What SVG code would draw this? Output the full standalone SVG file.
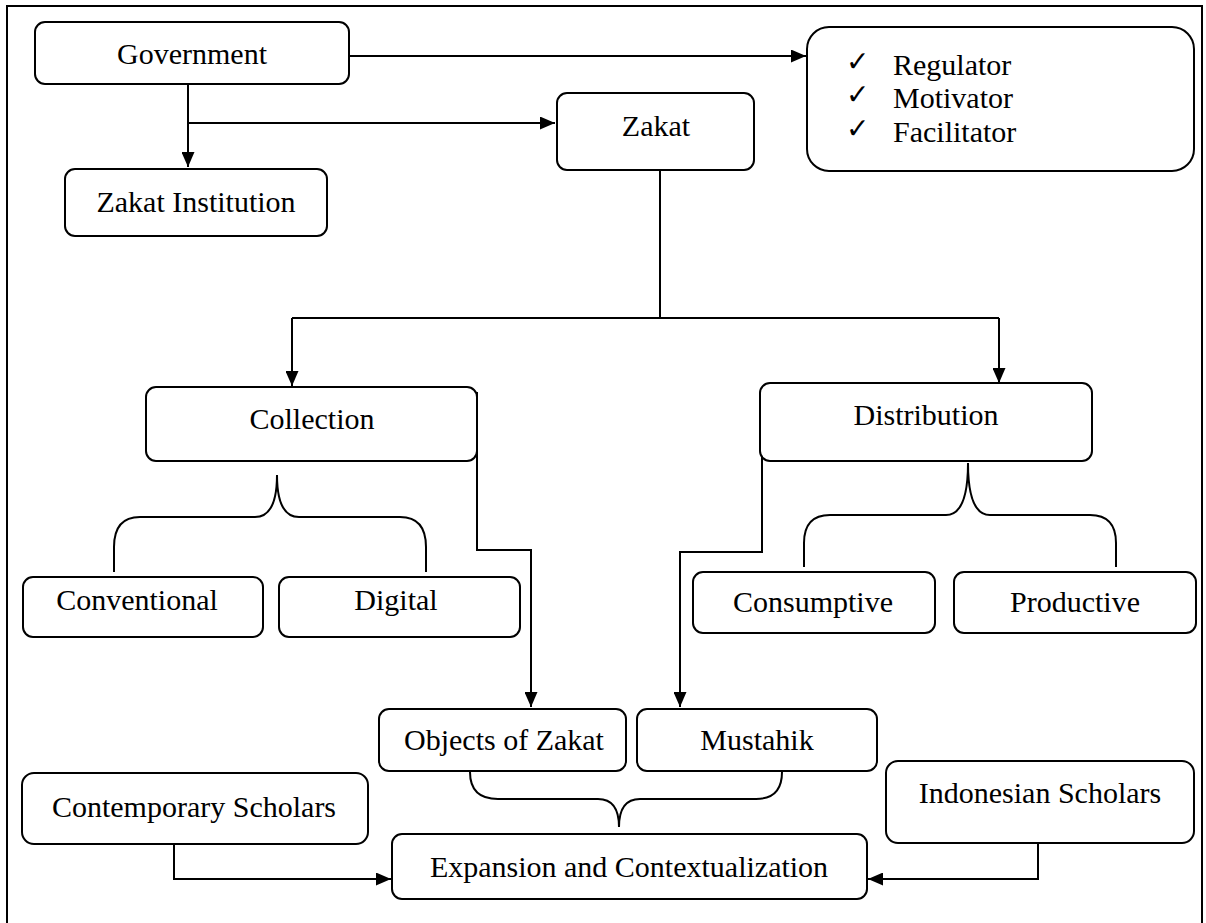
<svg xmlns="http://www.w3.org/2000/svg" width="1206" height="923" viewBox="0 0 1206 923">
<style>
.box{fill:#fff;stroke:#000;stroke-width:2}
.ln{fill:none;stroke:#000;stroke-width:2}
.t{font-family:"Liberation Serif","Times New Roman",serif;font-size:30px;fill:#000;text-anchor:middle}
.tl{font-family:"Liberation Serif","Times New Roman",serif;font-size:30px;fill:#000}
.ck{font-family:"DejaVu Sans",sans-serif;font-size:28px;fill:#000}
</style>
<defs>
<marker id="ah" markerUnits="userSpaceOnUse" markerWidth="15" markerHeight="13" refX="15" refY="6.5" orient="auto">
<path d="M0,0 L15,6.5 L0,13 z" fill="#000"/>
</marker>
</defs>
<rect x="7" y="6" width="1195" height="940" fill="#fff" stroke="#000" stroke-width="2"/>
<g id="connectors">
<path class="ln" d="M349,56 H806" marker-end="url(#ah)"/>
<path class="ln" d="M188,84 V167" marker-end="url(#ah)"/>
<path class="ln" d="M188,123 H555" marker-end="url(#ah)"/>
<path class="ln" d="M660,170 V318"/>
<path class="ln" d="M292,318 H999"/>
<path class="ln" d="M292,318 V386" marker-end="url(#ah)"/>
<path class="ln" d="M999,318 V383" marker-end="url(#ah)"/>
<path class="ln" d="M477,392 V550 H531 V707" marker-end="url(#ah)"/>
<path class="ln" d="M762,398 V552 H680 V707" marker-end="url(#ah)"/>
<path class="ln" d="M114,572 V547 Q114,517 140,517 H255 Q277,517 277,475 Q277,517 299,517 H400 Q426,517 426,547 V572"/>
<path class="ln" d="M804,567 V543 Q804,515 830,515 H946 Q968,515 968,463 Q968,515 990,515 H1090 Q1116,515 1116,543 V567"/>
<path class="ln" d="M470,772 Q470,799 498,799 H598 Q619,799 619,827 Q619,799 640,799 H756 Q782,799 782,772"/>
<path class="ln" d="M174,844 V879 H391" marker-end="url(#ah)"/>
<path class="ln" d="M1038,843 V879 H868" marker-end="url(#ah)"/>
</g>
<g id="government">
<rect class="box" x="35" y="22" width="314" height="62" rx="10"/>
<text class="t" x="192" y="64">Government</text>
</g>
<g id="roles">
<rect class="box" x="807" y="27" width="387" height="144" rx="22"/>
<text class="ck" x="846" y="71">✓</text>
<text class="ck" x="846" y="104">✓</text>
<text class="ck" x="846" y="138">✓</text>
<text class="tl" x="893" y="75">Regulator</text>
<text class="tl" x="893" y="108">Motivator</text>
<text class="tl" x="893" y="142">Facilitator</text>
</g>
<g id="zakat-institution">
<rect class="box" x="65" y="169" width="262" height="67" rx="10"/>
<text class="t" x="196" y="212">Zakat Institution</text>
</g>
<g id="zakat">
<rect class="box" x="557" y="93" width="197" height="77" rx="10"/>
<text class="t" x="656" y="136">Zakat</text>
</g>
<g id="collection">
<rect class="box" x="146" y="387" width="331" height="74" rx="10"/>
<text class="t" x="312" y="429">Collection</text>
</g>
<g id="distribution">
<rect class="box" x="760" y="383" width="332" height="78" rx="10"/>
<text class="t" x="926" y="425">Distribution</text>
</g>
<g id="conventional">
<rect class="box" x="23" y="577" width="240" height="60" rx="10"/>
<text class="t" x="137" y="610">Conventional</text>
</g>
<g id="digital">
<rect class="box" x="279" y="577" width="241" height="60" rx="10"/>
<text class="t" x="396" y="610">Digital</text>
</g>
<g id="consumptive">
<rect class="box" x="693" y="572" width="242" height="61" rx="10"/>
<text class="t" x="813" y="612">Consumptive</text>
</g>
<g id="productive">
<rect class="box" x="954" y="572" width="242" height="61" rx="10"/>
<text class="t" x="1075" y="612">Productive</text>
</g>
<g id="objects">
<rect class="box" x="379" y="709" width="247" height="62" rx="10"/>
<text class="t" x="504" y="750">Objects of Zakat</text>
</g>
<g id="mustahik">
<rect class="box" x="637" y="709" width="240" height="62" rx="10"/>
<text class="t" x="757" y="750">Mustahik</text>
</g>
<g id="contemporary">
<rect class="box" x="22" y="773" width="346" height="71" rx="12"/>
<text class="t" x="194" y="817">Contemporary Scholars</text>
</g>
<g id="indonesian">
<rect class="box" x="886" y="761" width="308" height="82" rx="12"/>
<text class="t" x="1040" y="803">Indonesian Scholars</text>
</g>
<g id="expansion">
<rect class="box" x="392" y="834" width="475" height="65" rx="10"/>
<text class="t" x="629" y="877">Expansion and Contextualization</text>
</g>
</svg>
